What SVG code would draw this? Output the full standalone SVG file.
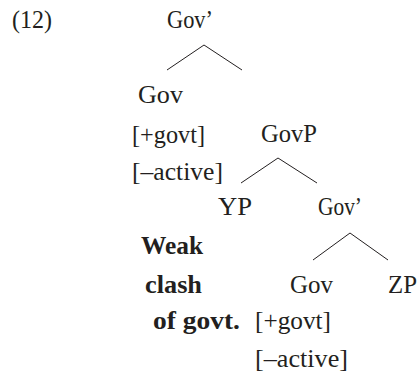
<svg xmlns="http://www.w3.org/2000/svg" width="420" height="373" viewBox="0 0 420 373">
  <style>
    text { font-family: "Liberation Serif", "Times New Roman", serif; font-size: 25px; fill: #231f20; }
    .b { font-weight: bold; }
    .edge { stroke: #231f20; stroke-width: 1; fill: none; }
  </style>
  <rect width="420" height="373" fill="#fff"/>
  <text x="12" y="28" textLength="40" lengthAdjust="spacingAndGlyphs">(12)</text>

  <g id="connectors">
    <polyline class="edge" points="167,70 204,45 242,70"/>
    <polyline class="edge" points="241,183 278,158 317,183"/>
    <polyline class="edge" points="313,260 350,233 388,260"/>
  </g>

  <g id="gov-bar-top"><text x="167" y="28" textLength="46" lengthAdjust="spacingAndGlyphs">Gov’</text></g>
  <g id="gov-head-1">
    <text x="138" y="103" textLength="45" lengthAdjust="spacingAndGlyphs">Gov</text>
    <text x="132" y="143" textLength="73" lengthAdjust="spacingAndGlyphs">[+govt]</text>
    <text x="132" y="180" textLength="91" lengthAdjust="spacingAndGlyphs">[–active]</text>
  </g>
  <g id="govp"><text x="261" y="142" textLength="56" lengthAdjust="spacingAndGlyphs">GovP</text></g>
  <g id="yp"><text x="218" y="215" textLength="34" lengthAdjust="spacingAndGlyphs">YP</text></g>
  <g id="gov-bar-low"><text x="318" y="215" textLength="44" lengthAdjust="spacingAndGlyphs">Gov’</text></g>
  <g id="note">
    <text class="b" x="141" y="254" textLength="62" lengthAdjust="spacingAndGlyphs">Weak</text>
    <text class="b" x="145" y="293" textLength="57" lengthAdjust="spacingAndGlyphs">clash</text>
    <text class="b" x="153" y="329" textLength="87" lengthAdjust="spacingAndGlyphs">of govt.</text>
  </g>
  <g id="gov-head-2">
    <text x="290" y="293" textLength="43" lengthAdjust="spacingAndGlyphs">Gov</text>
    <text x="255" y="329" textLength="76" lengthAdjust="spacingAndGlyphs">[+govt]</text>
    <text x="255" y="367" textLength="93" lengthAdjust="spacingAndGlyphs">[–active]</text>
  </g>
  <g id="zp"><text x="388" y="293" textLength="29" lengthAdjust="spacingAndGlyphs">ZP</text></g>
</svg>
